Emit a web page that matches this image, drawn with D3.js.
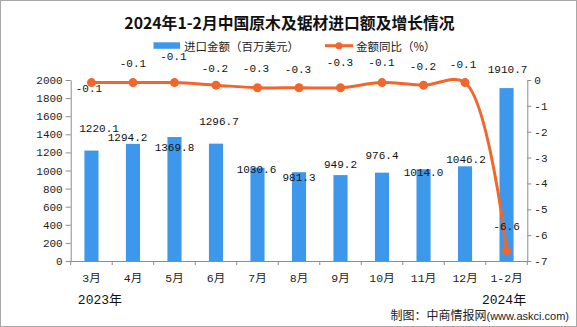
<!DOCTYPE html>
<html><head><meta charset="utf-8">
<script src="https://cdn.jsdelivr.net/npm/d3@7"></script>
<style>body{margin:0;background:#fff} svg{display:block}</style>
</head><body><svg id="c" width="577" height="327"></svg>
<script>
// ---- data ----
const categories = ["3月","4月","5月","6月","7月","8月","9月","10月","11月","12月","1-2月"];
const importValues = [1220.1,1294.2,1369.8,1296.7,1030.6,981.3,949.2,976.4,1014.0,1046.2,1910.7];
const yoyValues = [-0.1,-0.1,-0.1,-0.2,-0.3,-0.3,-0.3,-0.1,-0.2,-0.1,-6.6];
const leftTicks = [0,200,400,600,800,1000,1200,1400,1600,1800,2000];
const rightTicks = [0,-1,-2,-3,-4,-5,-6,-7];
const yearLabels = ["2023年","2024年"];
const titleText = "2024年1-2月中国原木及锯材进口额及增长情况";
const seriesNames = ["进口金额（百万美元）","金额同比（%）"];
const creditCn = "制图：中商情报网";
const creditUrl = "(www.askci.com)";

// ---- label placement tweaks (layout only) ----
const barLabelShift = [[7.6,-22.6],[-5.4,-7],[0,10],[3,-22],[-1,1.5],[0,5],[0,-11],[0,-17.6],[0,2.5],[1,-7],[1,-19]];
const lineLabelShift = [[-2.5,6],[0,-19.3],[-1,-26.6],[-1,-17.5],[-1.5,-20],[-1,-19],[-0.5,-25.5],[-0.5,-20.3],[-0.5,-19],[-2,-18.3],[0,-24.7]];

const BLUE = "#3d98ec", ORANGE = "#f0662c", AXIS = "#8c8c8c";
const MONO = "'Liberation Mono','Noto Sans CJK SC',monospace";
const CJK = "'Noto Sans CJK SC',sans-serif";

const svg = d3.select("#c");
svg.append("rect").attr("x",0.5).attr("y",0.5).attr("width",576).attr("height",326)
  .attr("fill","#fff").attr("stroke","#a8a8a8");

const x = d3.scaleBand().domain(categories).range([70.7,527.3]).paddingInner(0).paddingOuter(0);
const yL = d3.scaleLinear().domain([0,2000]).range([261,80]);
const yR = d3.scaleLinear().domain([-7,0]).range([261,80]);
const cx = d => x(d) + x.bandwidth()/2;
const barW = x.bandwidth()*0.34;

// title
svg.append("text").attr("x",289.5).attr("y",28.5).attr("text-anchor","middle")
  .attr("font-family",CJK).attr("font-weight","bold").attr("font-size",15.8)
  .attr("fill","#111").text(titleText);

// legend
const lg = svg.append("g");
lg.append("rect").attr("x",153.5).attr("y",42.3).attr("width",26.5).attr("height",6.5).attr("fill",BLUE);
lg.append("text").attr("x",184).attr("y",50.8).attr("font-family",CJK).attr("font-size",11.5).attr("fill","#222").text(seriesNames[0]);
lg.append("line").attr("x1",325).attr("x2",353).attr("y1",45.7).attr("y2",45.7).attr("stroke",ORANGE).attr("stroke-width",3);
lg.append("circle").attr("cx",339).attr("cy",45.7).attr("r",3.5).attr("fill",ORANGE);
lg.append("text").attr("x",356).attr("y",50.8).attr("font-family",CJK).attr("font-size",11.5).attr("fill","#222").text(seriesNames[1]);

// bars
svg.append("g").selectAll("rect").data(importValues).join("rect")
  .attr("x",(d,i)=>cx(categories[i])-barW/2).attr("width",barW)
  .attr("y",d=>yL(d)).attr("height",d=>yL(0)-yL(d)).attr("fill",BLUE);

// axes
function styleAxis(g){
  g.selectAll(".domain").attr("stroke",AXIS);
  g.selectAll(".tick line").attr("stroke",AXIS);
  g.selectAll("text").attr("font-family",MONO).attr("font-size",11).attr("fill","#222");
}
svg.append("g").attr("transform","translate(70.7,0)")
  .call(d3.axisLeft(yL).tickValues(leftTicks).tickSize(5).tickSizeOuter(0).tickPadding(3).tickFormat(d=>String(d)))
  .call(styleAxis);
svg.append("g").attr("transform","translate(527.3,0)")
  .call(d3.axisRight(yR).tickValues(rightTicks).tickSize(4).tickSizeOuter(0).tickPadding(3).tickFormat(d=>String(d)))
  .call(styleAxis);
const xa = svg.append("g").attr("transform","translate(0,261)")
  .call(d3.axisBottom(x).tickSize(0).tickSizeOuter(0).tickPadding(13))
  .call(styleAxis);
xa.selectAll("text").attr("font-size",11.5);
// band boundary ticks
const bounds = categories.map(c=>x(c)).concat([x.range()[1]]);
svg.append("g").selectAll("line").data(bounds).join("line")
  .attr("x1",d=>d).attr("x2",d=>d).attr("y1",261).attr("y2",265).attr("stroke",AXIS);

// line
const line = d3.line().x((d,i)=>cx(categories[i])).y(d=>yR(d)).curve(d3.curveCatmullRom.alpha(0.5));
svg.append("path").datum(yoyValues).attr("d",line).attr("fill","none").attr("stroke",ORANGE).attr("stroke-width",3);
svg.append("g").selectAll("circle").data(yoyValues).join("circle")
  .attr("cx",(d,i)=>cx(categories[i])).attr("cy",d=>yR(d)).attr("r",4.5).attr("fill",ORANGE);

// bar labels
svg.append("g").selectAll("text").data(importValues).join("text")
  .attr("x",(d,i)=>cx(categories[i])+barLabelShift[i][0])
  .attr("y",(d,i)=>yL(d)+barLabelShift[i][1]).attr("dy","0.35em")
  .attr("text-anchor","middle").attr("font-family",MONO).attr("font-size",11).attr("fill","#111")
  .text(d=>d.toFixed(1));
// line labels
svg.append("g").selectAll("text").data(yoyValues).join("text")
  .attr("x",(d,i)=>cx(categories[i])+lineLabelShift[i][0])
  .attr("y",(d,i)=>yR(d)+lineLabelShift[i][1]).attr("dy","0.35em")
  .attr("text-anchor","middle").attr("font-family",MONO).attr("font-size",11).attr("fill","#111")
  .text(d=>d.toFixed(1));

// year labels
svg.append("g").selectAll("text").data(yearLabels).join("text")
  .attr("x",(d,i)=>i===0?cx(categories[0])+8.5:cx(categories[categories.length-1])-2.5)
  .attr("y",303.5).attr("text-anchor","middle").attr("font-family",MONO).attr("font-size",13).attr("fill","#111")
  .text(d=>d);

// credit
const cr = svg.append("text").attr("x",569).attr("y",320).attr("text-anchor","end").attr("fill","#222");
cr.append("tspan").attr("font-family",CJK).attr("font-size",12).text(creditCn);
cr.append("tspan").attr("font-family","'Liberation Sans',Arial,sans-serif").attr("font-size",11).text(creditUrl);
</script></body></html>
